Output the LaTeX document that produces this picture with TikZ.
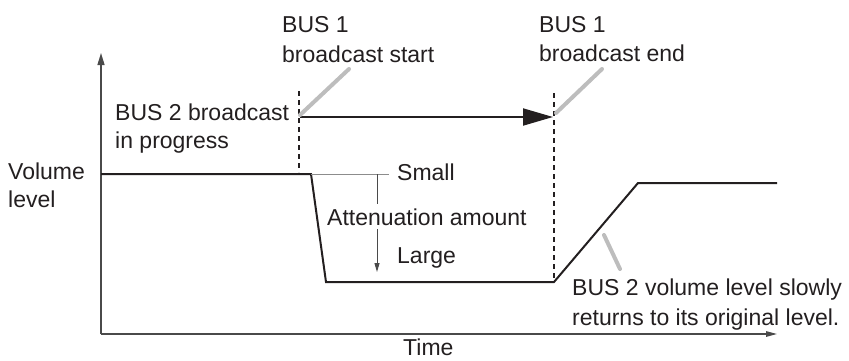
\documentclass[tikz,border=0pt]{standalone}
\usepackage{fontspec}
\setmainfont{Liberation Sans}
\usetikzlibrary{arrows.meta}
\definecolor{ink}{HTML}{231F20}
\definecolor{axisgray}{HTML}{4A4A4A}
\definecolor{callgray}{HTML}{BDBDBD}
\definecolor{thingray}{HTML}{8C8C8C}
\begin{document}
\begin{tikzpicture}[x=1pt,y=-1pt,
  lbl/.style={anchor=base west, inner sep=0pt, font=\fontsize{23}{29}\selectfont, text=ink},
  axisline/.style={draw=axisgray, line width=1.3pt},
  volline/.style={draw=ink, line width=2pt, line join=miter},
  dashline/.style={draw=ink, line width=1.6pt, dash pattern=on 5pt off 4pt},
  callout/.style={draw=callgray, line width=4pt, line cap=round},
  bigarrow/.style={draw=ink, line width=2pt, -{Triangle[length=30pt,width=17pt]}},
  attarrow/.style={draw=axisgray, line width=1pt, -{Triangle[length=9pt,width=5pt]}},
  refline/.style={draw=thingray, line width=1pt}]
\useasboundingbox (0,0) rectangle (849,360);

% axes
\coordinate (O) at (101,334);
\coordinate (ytip) at (101,53);
\coordinate (xtip) at (777,334);
\draw[axisline, -{Triangle[length=12pt,width=7pt]}] (O) -- (ytip);
\draw[axisline, -{Triangle[length=11pt,width=5.5pt]}] (O) -- (xtip);

% volume curve
\coordinate (va) at (101,174);
\coordinate (vb) at (311,174);
\coordinate (vc) at (326,282);
\coordinate (vd) at (554,282);
\coordinate (ve) at (638,183);
\coordinate (vf) at (777,183);
\draw[volline] (va) -- (vb) -- (vc) -- (vd) -- (ve) -- (vf);

% dashed markers
\coordinate (d1t) at (299,91);
\coordinate (d1b) at (299,172);
\coordinate (d2t) at (554,93);
\coordinate (d2b) at (554,282);
\draw[dashline] (d1t) -- (d1b);
\draw[dashline] (d2t) -- (d2b);

% broadcast arrow
\coordinate (ba) at (300,117);
\coordinate (bb) at (553,117);
\draw[bigarrow] (ba) -- (bb);

% callouts
\coordinate (c1a) at (300,115);
\coordinate (c1b) at (349,69);
\coordinate (c2a) at (556,113);
\coordinate (c2b) at (602,69);
\coordinate (c3a) at (604,235);
\coordinate (c3b) at (620,269);
\draw[callout] (c1a) -- (c1b);
\draw[callout] (c2a) -- (c2b);
\draw[callout] (c3a) -- (c3b);

% attenuation
\coordinate (sa) at (311,174);
\coordinate (sb) at (389,174);
\draw[refline] (sa) -- (sb);
\coordinate (aa) at (377,174);
\coordinate (ab) at (377,272);
\draw[attarrow] (aa) -- (ab);

% labels
\node[lbl] (b1s1) at (282,32) {BUS 1};
\node[lbl] (b1s2) at (282,62) {broadcast start};
\node[lbl] (b2p1) at (115,120) {BUS 2 broadcast};
\node[lbl] (b2p2) at (115,148) {in progress};
\node[lbl] (b1e1) at (539,32) {BUS 1};
\node[lbl] (b1e2) at (539,61) {broadcast end};
\node[lbl] (vol1) at (8,179) {Volume};
\node[lbl] (vol2) at (8,207) {level};
\node[lbl] (small) at (397,180) {Small};
\node[lbl, fill=white, inner ysep=4pt] (att) at (327,225) {Attenuation amount};
\node[lbl] (large) at (397,263) {Large};
\node[lbl] (ret1) at (572,295) {BUS 2 volume level slowly};
\node[lbl] (ret2) at (572,325) {returns to its original level.};
\node[lbl, text depth=0pt] (time) at (403,355) {Time};
\end{tikzpicture}
\end{document}
